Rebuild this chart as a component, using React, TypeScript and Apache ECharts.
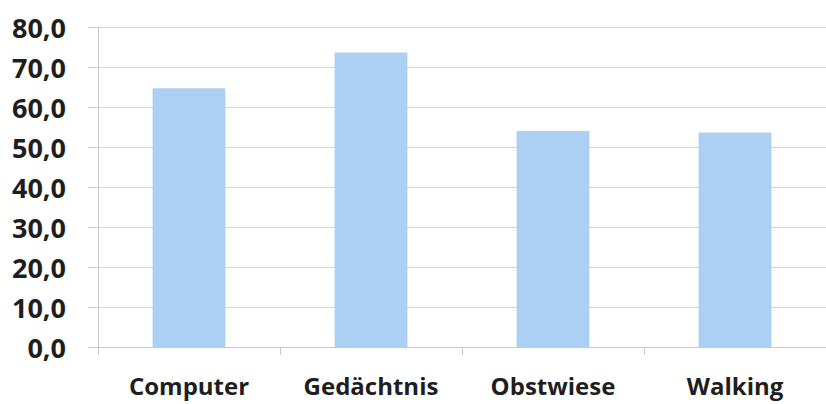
import React, { useEffect, useRef } from "react";
import * as echarts from "echarts";

const categories = ["Computer", "Gedächtnis", "Obstwiese", "Walking"];
const values = [64.7, 73.6, 54.0, 53.6];
const yTicks = { min: 0, max: 80, interval: 10 };

export default function App() {
  const ref = useRef<HTMLDivElement>(null);
  useEffect(() => {
    if (!ref.current) return;
    const chart = echarts.init(ref.current, null, { renderer: "svg" });
    chart.setOption({
      animation: false,
      backgroundColor: "#ffffff",
      grid: { left: 98, top: 27, width: 736, bottom: 57, containLabel: false },
      xAxis: {
        type: "category",
        data: categories,
        axisLine: { show: true, lineStyle: { color: "#c8c8c8", width: 1 } },
        axisTick: { show: true, length: 8, alignWithLabel: false, lineStyle: { color: "#c8c8c8" } },
        axisLabel: {
          margin: 26,
          fontSize: 24,
          fontWeight: "bold",
          fontFamily: "Open Sans",
          color: "#1e1e1e",
        },
      },
      yAxis: {
        type: "value",
        min: yTicks.min,
        max: yTicks.max,
        interval: yTicks.interval,
        axisLine: { show: true, lineStyle: { color: "#c8c8c8", width: 1 } },
        axisTick: { show: true, length: 10, lineStyle: { color: "#c8c8c8" } },
        splitLine: { show: true, lineStyle: { color: "#d6d6d6", width: 1 } },
        axisLabel: {
          margin: 32,
          fontSize: 27,
          fontWeight: "bold",
          fontFamily: "Open Sans",
          color: "#1e1e1e",
          formatter: (v: number) => v.toFixed(1).replace(".", ","),
        },
      },
      series: [
        {
          type: "bar",
          data: values,
          barWidth: "40%",
          itemStyle: { color: "#abd0f3" },
        },
      ],
    });
    return () => chart.dispose();
  }, []);
  return (
    <div
      ref={ref}
      style={{ position: "fixed", left: 0, top: 0, width: 826, height: 404 }}
    />
  );
}
